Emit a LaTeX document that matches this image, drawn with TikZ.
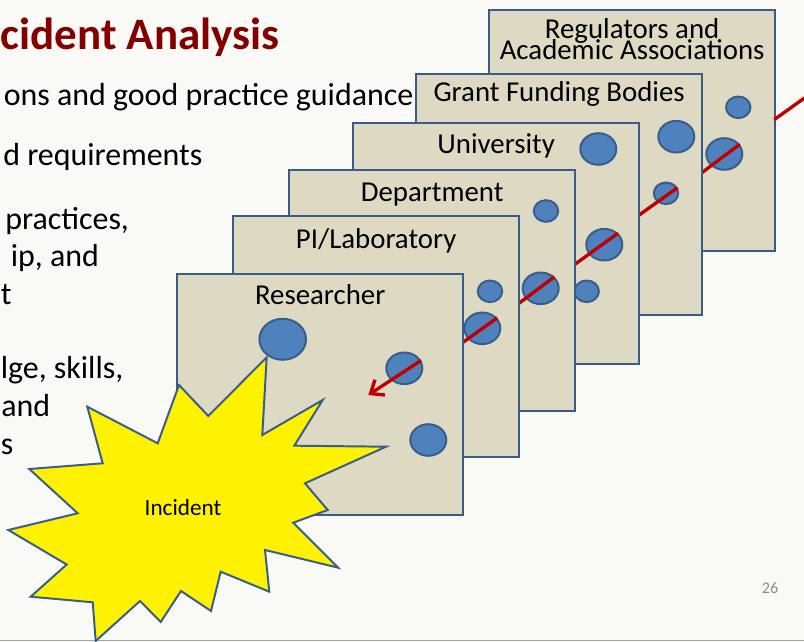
\documentclass[tikz,border=0pt]{standalone}
\usepackage{fontspec}
\setmainfont{Carlito}
\usetikzlibrary{shapes.geometric, arrows.meta}
\definecolor{slidebg}{RGB}{249,249,246}
\definecolor{paneltan}{RGB}{221,217,195}
\definecolor{panelblue}{RGB}{56,93,138}
\definecolor{holeblue}{RGB}{79,129,189}
\definecolor{needlered}{RGB}{192,0,0}
\definecolor{titlered}{RGB}{132,0,0}
\definecolor{pagegray}{RGB}{140,140,140}
\tikzset{
	panel/.style={draw=panelblue, fill=paneltan, line width=1.6pt, minimum width=7.15cm, minimum height=6.02cm, inner sep=0pt, anchor=north west},
	paneltext/.style={font=\fontsize{20.5}{24}\selectfont, anchor=base, inner sep=0pt},
	hole/.style={ellipse, draw=panelblue, fill=holeblue, line width=1.4pt, minimum width=0.9cm, minimum height=0.79cm, inner sep=0pt},
	smallhole/.style={hole, minimum width=0.61cm, minimum height=0.54cm},
	needle/.style={draw=needlered, line width=2.4pt},
	bullettext/.style={font=\fontsize{22.7}{27}\selectfont, anchor=base west, inner sep=0pt},
	burst/.style={draw=panelblue, fill=yellow, line width=1.4pt, line join=miter},
}

\begin{document}
\begin{tikzpicture}[x=0.025cm, y=-0.025cm]
		\useasboundingbox (0,0) rectangle (804,642);
		\fill[slidebg] (0,0) rectangle (804,642);
		\draw[gray!70, line width=1pt] (0,640.5) -- (804,640.5);

		\node[font=\bfseries\fontsize{32}{36}\selectfont, text=titlered, anchor=base west, inner sep=0pt] (title) at (0.5,50) {cident Analysis};
		\node[bullettext] (line1) at (3.5,106) {ons and good practice guidance};
		\node[bullettext] (line2) at (3,166) {d requirements};
		\node[bullettext] (line3) at (5,229.5) {practices,};
		\node[bullettext] (line4) at (10.5,266.7) {ip, and};
		\node[bullettext] (line5) at (0.5,305) {t};
		\node[bullettext] (line6) at (0.5,379) {lge, skills,};
		\node[bullettext] (line7) at (1,416.7) {and};
		\node[bullettext] (line8) at (0.5,455) {s};

		\coordinate (exit) at (806,96.9);
		\coordinate (reg-under) at (690,181.5);
		\coordinate (grant-under) at (626,224.4);
		\coordinate (univ-under) at (562,273.6);
		\coordinate (dept-under) at (506,313);
		\coordinate (pi-under) at (448,353);
		\coordinate (tip) at (368.3,395);

		\node[panel] (reg) at (488,9) {};
		\node[paneltext, anchor=north, align=center] (reg-t) at ([yshift=-0.223cm]reg.north) {Regulators and\\[-9pt]Academic Associations};
		\node[smallhole] (regA) at (738.3,107.3) {};
		\node[hole] (regB) at (724.3,154) {};
		\draw[needle, shorten <=1.06cm] (regB.32) -- (exit);
		\draw[needle] (regB.32) -- (reg-under);

		\node[panel] (grant) at (415,73) {};
		\node[paneltext] (grant-t) at ([yshift=-0.717cm]grant.north) {Grant Funding Bodies};
		\node[hole] (grA) at (676.3,136.7) {};
		\node[smallhole] (grB) at (666,193.3) {};
		\draw[needle] (grB.26) -- (grant-under);

		\node[panel] (univ) at (352,122) {};
		\node[paneltext] (univ-t) at ([yshift=-0.79cm]univ.north) {University};
		\node[hole] (uniA) at (598.3,149) {};
		\node[hole] (uniB) at (604.3,244.7) {};
		\node[smallhole] (uniC) at (586.7,291.3) {};
		\draw[needle] (uniB.40) -- (univ-under);

		\node[panel] (dept) at (288,169) {};
		\node[paneltext] (dept-t) at ([yshift=-0.82cm]dept.north) {Department};
		\node[smallhole] (deptA) at (546,211) {};
		\node[hole] (deptB) at (540.7,288.3) {};
		\draw[needle] (deptB.40) -- (dept-under);

		\node[panel] (pi) at (232,215) {};
		\node[paneltext] (pi-t) at ([yshift=-0.83cm]pi.north) {PI/Laboratory};
		\node[smallhole] (piA) at (490,291.3) {};
		\node[hole] (piB) at (482.3,328.3) {};
		\draw[needle] (piB.35) -- (pi-under);

		\node[panel] (res) at (176,273) {};
		\node[paneltext] (res-t) at ([yshift=-0.79cm]res.north) {Researcher};
		\node[hole, minimum width=1.165cm, minimum height=1.025cm] (resA) at (282.7,339.3) {};
		\node[hole] (resB) at (404.3,368.3) {};
		\node[hole] (resC) at (428.3,440) {};
		\draw[needle, -{Straight Barb[length=8pt,width=13pt]}] (resB.25) -- (tip);

		\draw[burst] (266.7,357.3) -- (262.3,435) -- (322.7,400) -- (294.3,445.7) -- (386,446.7)
			-- (305,483.3) -- (327.7,510) -- (293.3,522.7) -- (338.3,567.7) -- (265,550)
			-- (269.3,591.7) -- (220.7,571.7) -- (211,611) -- (181,591) -- (160.7,622)
			-- (140,601) -- (95.7,641) -- (92.7,602.3) -- (30.7,596.7) -- (66.7,564.5)
			-- (8.3,530) -- (77.7,513.3) -- (29.3,469) -- (102.7,463.3) -- (87.3,406.7)
			-- (157.7,443.3) -- (179,385) -- (208.3,416) -- cycle;
		\node[font=\fontsize{16.5}{20}\selectfont, anchor=base, inner sep=0pt] (incident) at (183,516) {Incident};

		\node[text=pagegray, font=\fontsize{11.5}{14}\selectfont, anchor=base, inner sep=0pt] (pagenum) at (770,593.3) {26};
	\end{tikzpicture}
\end{document}
